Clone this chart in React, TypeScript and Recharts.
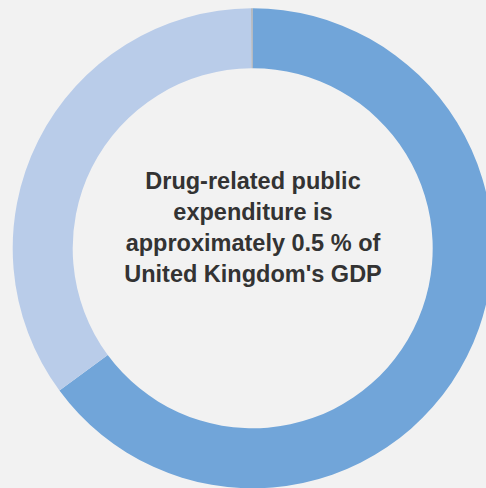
import { Cell, Pie, PieChart } from "recharts";

// share of each ring segment, clockwise from 12 o'clock
const segmentNames = ["Drug-related", "Other", "Gap"];
const segmentValues = [64.9, 35, 0.1];
const segmentColors = ["#71a5d9", "#b9cce9", "#a8adb3"];

const centerLines = [
  "Drug-related public",
  "expenditure is",
  "approximately 0.5 % of",
  "United Kingdom's GDP",
];

const data = segmentNames.map((name, i) => ({ name, value: segmentValues[i] }));

export default function App() {
  return (
    <div
      style={{
        position: "absolute",
        left: 0,
        top: 0,
        width: 486,
        height: 488,
        background: "#f2f2f2",
        overflow: "hidden",
      }}
    >
      <PieChart width={486} height={488} margin={{ top: 0, right: 0, bottom: 0, left: 0 }}>
        <Pie
          data={data}
          dataKey="value"
          nameKey="name"
          cx={252.7}
          cy={248.3}
          innerRadius={180}
          outerRadius={240}
          startAngle={90}
          endAngle={-270}
          stroke="none"
          isAnimationActive={false}
        >
          {data.map((d, i) => (
            <Cell key={d.name} fill={segmentColors[i]} />
          ))}
        </Pie>
      </PieChart>
      <div
        style={{
          position: "absolute",
          left: 53,
          width: 400,
          top: 166,
          textAlign: "center",
          fontFamily: "'Liberation Sans', Arial, sans-serif",
          fontWeight: "bold",
          fontSize: 23.5,
          lineHeight: "31px",
          color: "#333333",
        }}
      >
        {centerLines.map((line) => (
          <div key={line}>{line}</div>
        ))}
      </div>
    </div>
  );
}
